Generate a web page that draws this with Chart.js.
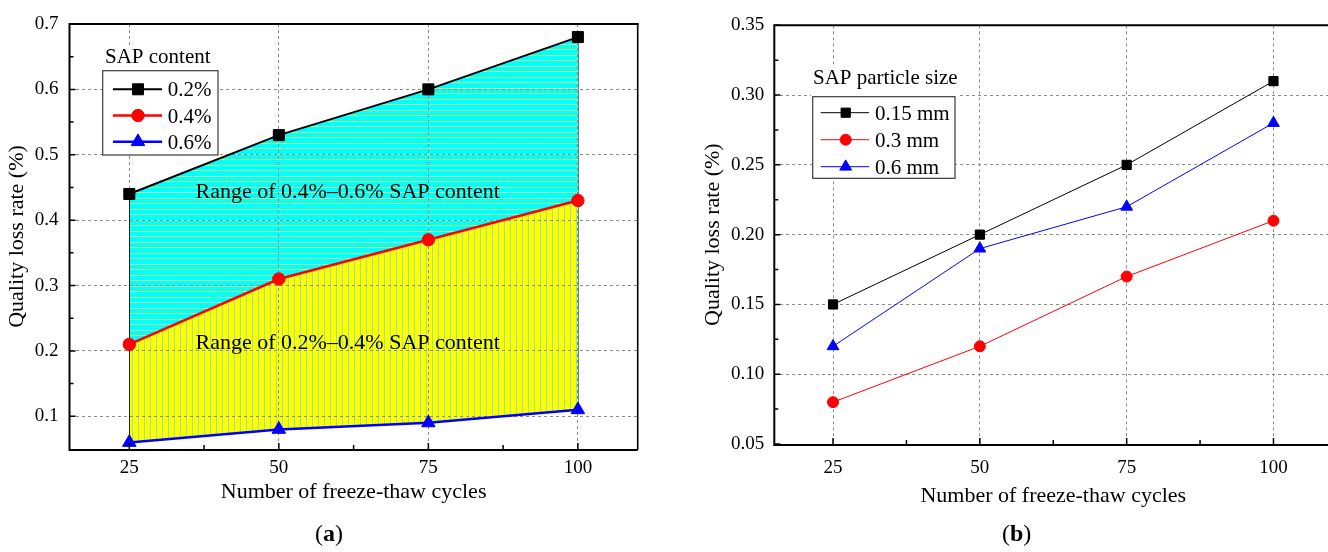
<!DOCTYPE html>
<html>
<head>
<meta charset="utf-8">
<script src="https://cdn.jsdelivr.net/npm/chart.js@4.4.1/dist/chart.umd.min.js"></script>
<style>
  html, body { margin: 0; padding: 0; background: #fff; }
  body { width: 1328px; height: 552px; overflow: hidden; position: relative; }
  #wa { position: absolute; left: 0; top: 0; width: 660px; height: 552px; }
  #wb { position: absolute; left: 660px; top: 0; width: 680px; height: 552px; }
  .cap { position: absolute; top: 518px; font: 24px "Liberation Serif", "Times New Roman", serif; color: #000; line-height: 30px; }
  .cap b { font-weight: bold; }
</style>
</head>
<body>
<div id="wa"><canvas id="ca" width="660" height="552"></canvas></div>
<div id="wb"><canvas id="cb" width="680" height="552"></canvas></div>
<div class="cap" style="left:315px">(<b>a</b>)</div>
<div class="cap" style="left:1002px">(<b>b</b>)</div>

<script>
// ---- values ----
const cycles = [25, 50, 75, 100];

// (a) SAP content
const contentLabels = ['0.2%', '0.4%', '0.6%'];
const loss02 = [0.44, 0.53, 0.60, 0.68];
const loss04 = [0.21, 0.31, 0.37, 0.43];
const loss06 = [0.06, 0.08, 0.09, 0.11];
const rangeLabels = ['Range of 0.4%\u20130.6% SAP content', 'Range of 0.2%\u20130.4% SAP content'];

// (b) SAP particle size
const sizeLabels = ['0.15 mm', '0.3 mm', '0.6 mm'];
const loss015mm = [0.15, 0.20, 0.25, 0.31];
const loss03mm = [0.08, 0.12, 0.17, 0.21];
const loss06mm = [0.12, 0.19, 0.22, 0.28];

// axis ticks
const xTicks = [25, 50, 75, 100];
const yTicksA = [0.1, 0.2, 0.3, 0.4, 0.5, 0.6, 0.7];
const yTicksB = [0.05, 0.10, 0.15, 0.20, 0.25, 0.30, 0.35];

const xTitle = 'Number of freeze-thaw cycles';
const yTitle = 'Quality loss rate (%)';

// ---- helpers ----
const SERIF = "'Liberation Serif', 'Times New Roman', serif";
Chart.defaults.font.family = SERIF;
Chart.defaults.color = '#000';

const pts = ys => cycles.map((x, i) => ({ x, y: ys[i] }));

function midpoints(arr, lo, hi) {
  const out = [];
  for (let i = 0; i < arr.length - 1; i++) out.push((arr[i] + arr[i + 1]) / 2);
  const step = arr[1] - arr[0];
  const first = arr[0] - step / 2, last = arr[arr.length - 1] + step / 2;
  if (first > lo + 1e-9) out.push(first);
  if (last < hi - 1e-9) out.push(last);
  return out;
}

// striped tile used as an area fill
function stripes(ctx, bg, fg, w, h, lines) {
  const c = document.createElement('canvas');
  c.width = w; c.height = h;
  const g = c.getContext('2d');
  g.fillStyle = bg; g.fillRect(0, 0, w, h);
  g.fillStyle = fg;
  lines(g);
  return ctx.createPattern(c, 'repeat');
}

// inward ticks, box frame, legend and in-plot labels
const framePlugin = {
  id: 'frame',
  beforeDatasetsDraw(chart, args, o) {
    if (!o.edges) return;
    const { ctx } = chart;
    const top = chart.getDatasetMeta(0).data;
    const bot = chart.getDatasetMeta(chart.data.datasets.length - 1).data;
    ctx.save();
    ctx.lineWidth = 1;
    [[0, o.edges[0]], [top.length - 1, o.edges[1]]].forEach(([i, col]) => {
      ctx.strokeStyle = col;
      ctx.beginPath();
      ctx.moveTo(Math.round(top[i].x) + 0.5, top[i].y);
      ctx.lineTo(Math.round(bot[i].x) + 0.5, bot[i].y);
      ctx.stroke();
    });
    ctx.restore();
  },
  afterDatasetsDraw(chart, args, o) {
    const { ctx, chartArea: a, scales: { x, y } } = chart;
    ctx.save();

    // in-plot labels
    if (o.labels) {
      ctx.fillStyle = '#000';
      ctx.font = '22px ' + SERIF;
      ctx.textAlign = 'center';
      ctx.textBaseline = 'middle';
      o.labels.forEach(l => ctx.fillText(l.text, x.getPixelForValue(l.x), y.getPixelForValue(l.y)));
    }

    // inward tick marks on left and bottom axes
    ctx.strokeStyle = '#000';
    ctx.lineWidth = 1.5;
    ctx.beginPath();
    const tk = (vals, len) => {
      vals.forEach(v => {
        const py = y.getPixelForValue(v);
        ctx.moveTo(a.left, py); ctx.lineTo(a.left + len, py);
      });
    };
    const tkx = (vals, len) => {
      vals.forEach(v => {
        const px = x.getPixelForValue(v);
        ctx.moveTo(px, a.bottom); ctx.lineTo(px, a.bottom - len);
      });
    };
    tk(o.yMajor, 6); tk(midpoints(o.yMajor, y.min, y.max), 4);
    tkx(xTicks, 6); tkx(midpoints(xTicks, x.min, x.max), 4);
    ctx.stroke();

    // frame
    ctx.lineWidth = 2;
    ctx.beginPath();
    ctx.moveTo(a.left, a.top - 1); ctx.lineTo(a.left, a.bottom + 1); ctx.lineTo(a.right, a.bottom + 1);
    ctx.moveTo(a.left - 1, a.top); ctx.lineTo(a.right + 1, a.top);
    ctx.stroke();
    ctx.lineWidth = 1.6;
    ctx.beginPath();
    ctx.moveTo(a.right, a.top); ctx.lineTo(a.right, a.bottom + 1);
    ctx.stroke();

    // legend
    const L = o.legend;
    const bx = a.left + L.dx, by = a.top + L.dy;
    ctx.font = '21px ' + SERIF;
    ctx.textAlign = 'left';
    ctx.textBaseline = 'alphabetic';
    const tw = ctx.measureText(L.title).width;
    ctx.fillStyle = '#fff';
    ctx.fillRect(bx + L.tdx - 2, by - L.tbase - 18, tw + 4, L.tbase + 18);
    ctx.fillRect(bx, by, L.w, L.h);
    ctx.strokeStyle = '#3a3a3a';
    ctx.lineWidth = 1.2;
    ctx.strokeRect(bx, by, L.w, L.h);
    ctx.fillStyle = '#000';
    ctx.fillText(L.title, bx + L.tdx, by - L.tbase);
    chart.data.datasets.forEach((ds, i) => {
      const ry = by + L.row0 + i * L.rowH;
      ctx.strokeStyle = ds.borderColor;
      ctx.lineWidth = ds.borderWidth;
      ctx.beginPath();
      ctx.moveTo(bx + L.lx0, ry); ctx.lineTo(bx + L.lx1, ry);
      ctx.stroke();
      ctx.fillStyle = ds.pointBackgroundColor;
      ctx.strokeStyle = ds.pointBorderColor;
      ctx.lineWidth = 1;
      Chart.helpers.drawPoint(ctx, { pointStyle: ds.pointStyle, radius: ds.pointRadius, rotation: 0, borderWidth: 1 }, bx + L.mx, ry);
      ctx.fillStyle = '#000';
      ctx.fillText(ds.label, bx + L.tx, ry + 7);
    });
    ctx.restore();
  }
};

function xScale(pad, height, titlePad) {
  return {
    type: 'linear', min: 15, max: 110,
    afterBuildTicks: s => { s.ticks = xTicks.map(v => ({ value: v })); },
    afterFit: s => { s.height = height; },
    ticks: { padding: pad, font: { size: 19 }, maxRotation: 0, autoSkip: false, callback: v => String(v) },
    grid: { color: '#8c8c8c', lineWidth: 1, drawTicks: false },
    border: { display: false, dash: [3, 3] },
    title: { display: true, text: xTitle, font: { size: 22 }, padding: { top: 0, bottom: titlePad } }
  };
}

function yScale(min, max, tickVals, digits, width, pad, titlePad) {
  return {
    type: 'linear', min, max,
    afterBuildTicks: s => { s.ticks = tickVals.map(v => ({ value: v })); },
    afterFit: s => { s.width = width; },
    ticks: { padding: pad, font: { size: 19 }, autoSkip: false, callback: v => Number(v).toFixed(digits) },
    grid: { color: '#8c8c8c', lineWidth: 1, drawTicks: false },
    border: { display: false, dash: [3, 3] },
    title: { display: true, text: yTitle, font: { size: 22 }, padding: { top: titlePad, bottom: 0 } }
  };
}

function series(label, ys, color, style, radius, width, extra) {
  return Object.assign({
    label, data: pts(ys),
    borderColor: color, borderWidth: width,
    pointStyle: style, pointRadius: radius,
    pointBackgroundColor: color, pointBorderColor: color, pointBorderWidth: 1,
    pointHoverRadius: radius,
    tension: 0, fill: false, clip: false
  }, extra || {});
}

// ---- (a) ----
const ctxA = document.getElementById('ca').getContext('2d');
const cyanLines = stripes(ctxA, '#00ffff', '#b9f57c', 4, 11, g => { g.fillRect(0, 0, 4, 1); g.fillRect(0, 5, 4, 1); });
const yellowLines = stripes(ctxA, '#ffff00', '#8fe6a6', 6, 4, g => { g.fillRect(0, 0, 1, 4); });

new Chart(ctxA, {
  type: 'line',
  data: {
    datasets: [
      series(contentLabels[0], loss02, '#000000', 'rect', 7.8, 2, { fill: { target: 1 }, backgroundColor: cyanLines }),
      series(contentLabels[1], loss04, '#ff0000', 'circle', 6.2, 2.5, { fill: { target: 2 }, backgroundColor: yellowLines }),
      series(contentLabels[2], loss06, '#0000ff', 'triangle', 7.8, 2.5)
    ]
  },
  options: {
    responsive: false, animation: false, devicePixelRatio: 1, events: [],
    layout: { padding: { left: 0, right: 22.3, top: 24, bottom: 0 } },
    scales: {
      x: xScale(7.5, 103, 46.5),
      y: yScale(0.05, 0.7, yTicksA, 1, 69.5, 11, 4.4)
    },
    plugins: {
      legend: { display: false },
      tooltip: { enabled: false },
      filler: { drawTime: 'beforeDraw' },
      frame: {
        yMajor: yTicksA,
        edges: ['#1e1e1e', '#4f8f8f'],
        labels: [
          { text: rangeLabels[0], x: 61.5, y: 0.443 },
          { text: rangeLabels[1], x: 61.5, y: 0.212 }
        ],
        legend: { title: 'SAP content', dx: 33.2, dy: 46.7, w: 115.3, h: 84.3, tdx: 2.3, tbase: 7.4,
                  row0: 18.6, rowH: 26.2, lx0: 10.3, lx1: 59.3, mx: 35.3, tx: 65 }
      }
    }
  },
  plugins: [framePlugin]
});

// ---- (b) ----
const ctxB = document.getElementById('cb').getContext('2d');
new Chart(ctxB, {
  type: 'line',
  data: {
    datasets: [
      series(sizeLabels[0], loss015mm, '#000000', 'rect', 6.5, 1),
      series(sizeLabels[1], loss03mm, '#ff0000', 'circle', 5.5, 1),
      series(sizeLabels[2], loss06mm, '#0000ff', 'triangle', 6.8, 1)
    ]
  },
  options: {
    responsive: false, animation: false, devicePixelRatio: 1, events: [],
    layout: { padding: { left: 0, right: 2.8, top: 25.3, bottom: 0 } },
    scales: {
      x: xScale(12.5, 108, 42.3),
      y: yScale(0.05, 0.35, yTicksB, 2, 114.3, 10, 39.8)
    },
    plugins: {
      legend: { display: false },
      tooltip: { enabled: false },
      frame: {
        yMajor: yTicksB,
        legend: { title: 'SAP particle size', dx: 38.4, dy: 71.4, w: 142.3, h: 81.6, tdx: 0.3, tbase: 12.7,
                  row0: 16, rowH: 27, lx0: 8, lx1: 56.3, mx: 33, tx: 62.3 }
      }
    }
  },
  plugins: [framePlugin]
});
</script>
</body>
</html>
